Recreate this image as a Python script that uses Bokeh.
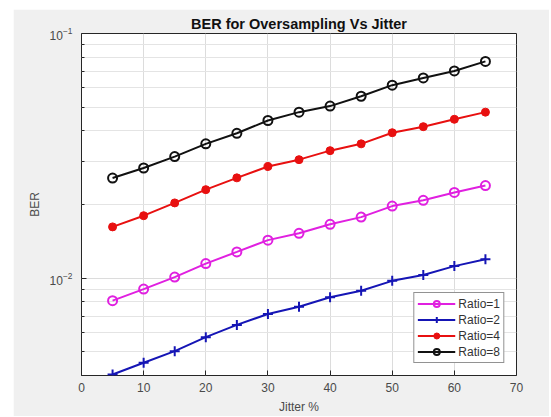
from bokeh.plotting import figure
from bokeh.models import FixedTicker, Legend, LegendItem
from bokeh.embed import file_html
from bokeh.resources import INLINE

# ---- data ----
jitter = [5, 10, 15, 20, 25, 30, 35, 40, 45, 50, 55, 60, 65]
ber_ratio1 = [0.00809, 0.00902, 0.0101, 0.01147, 0.0128, 0.0143, 0.01525, 0.0166, 0.01776, 0.0197, 0.0208, 0.0224, 0.0239]
ber_ratio2 = [0.00404, 0.00451, 0.00503, 0.00574, 0.00644, 0.00714, 0.00764, 0.00835, 0.00888, 0.00975, 0.0103, 0.0112, 0.01194]
ber_ratio4 = [0.0162, 0.0180, 0.0203, 0.0230, 0.0257, 0.0286, 0.0305, 0.0332, 0.0354, 0.0393, 0.0416, 0.0446, 0.0477]
ber_ratio8 = [0.02566, 0.0282, 0.0314, 0.0354, 0.0391, 0.0441, 0.0477, 0.0505, 0.0554, 0.0615, 0.0658, 0.0703, 0.0769]
series_labels = ["Ratio=1", "Ratio=2", "Ratio=4", "Ratio=8"]
x_ticks = [0, 10, 20, 30, 40, 50, 60, 70]
y_major_ticks = [0.01, 0.1]
y_minor_ticks = [m * 10.0 ** e for e in (-3, -2) for m in range(2, 10)]

FONT = "Liberation Sans"
AX = "#262626"
LBL = "#4a4a4a"

p = figure(width=536, height=407, y_axis_type="log",
           x_range=(0, 70), y_range=(0.004, 0.1),
           output_backend="svg", toolbar_location=None,
           title="BER for Oversampling Vs Jitter",
           min_border_left=68, min_border_right=33,
           min_border_top=24, min_border_bottom=40)
p.margin = (9, 0, 0, 13)
p.background_fill_color = "white"
p.border_fill_color = "#f0f0f0"
p.outline_line_color = AX
p.outline_line_width = 1

p.title.align = "center"
p.title.text_font = FONT
p.title.text_font_size = "14.5px"
p.title.text_font_style = "bold"
p.title.text_color = "#111111"
p.title.standoff = 3

xa = p.xaxis[0]
xa.ticker = FixedTicker(ticks=x_ticks)
xa.axis_label = "Jitter %"
ya = p.yaxis[0]
ya.ticker = FixedTicker(ticks=y_major_ticks, minor_ticks=y_minor_ticks)
ya.axis_label = "BER"
for ax in (xa, ya):
    ax.axis_line_color = None
    ax.major_tick_in = 5
    ax.major_tick_out = 0
    ax.minor_tick_in = 3
    ax.minor_tick_out = 0
    ax.major_tick_line_color = AX
    ax.minor_tick_line_color = AX
    ax.major_label_text_font = FONT
    ax.major_label_text_font_size = "12px"
    ax.major_label_text_color = LBL
    ax.axis_label_text_font = FONT
    ax.axis_label_text_font_size = "12px"
    ax.axis_label_text_font_style = "normal"
    ax.axis_label_text_color = LBL
xa.major_label_standoff = 7
xa.axis_label_standoff = 5
ya.major_label_standoff = 9
ya.axis_label_standoff = 5

# grids
p.xgrid.ticker = FixedTicker(ticks=x_ticks)
p.xgrid.grid_line_color = "#dcdcdc"
p.ygrid.ticker = FixedTicker(ticks=y_major_ticks, minor_ticks=y_minor_ticks)
p.ygrid.grid_line_color = "#dcdcdc"
p.ygrid.minor_grid_line_color = "#e4e4e4"

colors = ["#e020e0", "#1515b5", "#e81010", "#111111"]
series = [ber_ratio1, ber_ratio2, ber_ratio4, ber_ratio8]
items = []
for label, ys, col in zip(series_labels, series, colors):
    lr = p.line(jitter, ys, line_color=col, line_width=2)
    if label == "Ratio=2":
        sr = p.scatter(jitter, ys, marker="cross", size=10, line_color=col, line_width=2)
    elif label == "Ratio=4":
        sr = p.scatter(jitter, ys, marker="circle", size=8, fill_color=col, line_color=col)
    else:
        sr = p.scatter(jitter, ys, marker="circle", size=9, fill_color=None, line_color=col, line_width=2)
    items.append(LegendItem(label=label, renderers=[lr, sr]))

legend = Legend(items=items, location="bottom_right")
legend.margin = 12
legend.padding = 3
legend.spacing = 1
legend.glyph_width = 38
legend.glyph_height = 15
legend.label_standoff = 3
legend.label_height = 15
legend.label_text_font = FONT
legend.label_text_font_size = "12px"
legend.label_text_color = "#333333"
legend.border_line_color = AX
legend.background_fill_color = "white"
legend.background_fill_alpha = 1
p.add_layout(legend)

open("out.html", "w").write(file_html(p, INLINE))
